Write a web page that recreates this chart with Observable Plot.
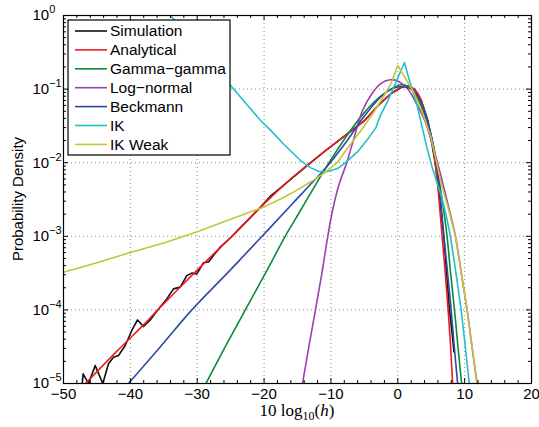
<!DOCTYPE html>
<html><head><meta charset="utf-8">
<script src="https://cdn.jsdelivr.net/npm/d3@7"></script>
<script src="https://cdn.jsdelivr.net/npm/@observablehq/plot@0.6"></script>
<style>
body{margin:0;background:#fff;}
#chart svg{display:block;}
</style></head><body><div id="chart"></div>
<script>
// ---- data ----
const seriesNames = ["Simulation","Analytical","Gamma\u2212gamma","Log\u2212normal","Beckmann","IK","IK Weak"];
const seriesColors = ["#111111","#ec1c24","#0b8a3c","#9b3fae","#2b4ba6","#22c0c8","#c4c43a"];

const simX = [-47.2,-47.06,-46.26,-45.26,-44.12,-43.27,-42.52,-41.77,-40.77,-39.78,-38.93,-38.03,-37.03,-35.79,-34.55,-33.55,-32.55,-31.56,-30.81,-30.06,-29.06,-28.31,-27.57,-26.5,-25,-23.5,-22,-20.5,-19,-17,-15,-13,-11,-9,-7,-5,-3,-1,0.5,1.5,2.5,3.5,4.5,5.5,6.0,6.88,7.3,7.73,8.1,8.4];
const simY = [1.00e-5,1.35e-5,1.00e-5,1.75e-5,1.00e-5,1.85e-5,2.28e-5,2.40e-5,3.28e-5,5.25e-5,7.31e-5,5.94e-5,7.31e-5,1.03e-4,1.41e-4,1.93e-4,2.04e-4,2.92e-4,3.16e-4,3.09e-4,4.37e-4,4.47e-4,5.50e-4,7.24e-4,9.55e-4,1.32e-3,1.82e-3,2.51e-3,3.55e-3,5.01e-3,7.08e-3,1.00e-2,1.41e-2,1.95e-2,2.69e-2,3.72e-2,5.89e-2,8.71e-2,0.105,0.111,0.100,0.0708,0.0372,0.0112,5.62e-3,1.00e-3,3.16e-4,1.00e-4,5.01e-5,2.69e-5];

const anaX = [-46.7,-42,-38,-35.9,-32,-28,-24.8,-20.8,-17,-13.06,-10,-7.5,-5,-2.5,0,1.4,2.9,4.4,5.2,5.9,6.63,7.1,7.53,7.9,8.2];
const anaY = [1.00e-5,2.75e-5,6.31e-5,1.00e-4,2.29e-4,5.25e-4,1.00e-3,2.34e-3,5.01e-3,1.00e-2,1.66e-2,2.51e-2,3.72e-2,6.61e-2,0.100,0.111,0.0902,0.0389,0.0178,5.62e-3,1.00e-3,3.16e-4,1.00e-4,3.16e-5,1.00e-5];

const ggX = [-28.7,-25.8,-22.8,-19.04,-16.85,-14.55,-12.3,-10.07,-7.6,-5.1,-2.6,-1,0.2,1.5,2.8,4.0,4.9,5.6,6.2,6.8,7.37,7.9,8.48,9.0,9.55];
const ggY = [1.00e-5,3.16e-5,1.00e-4,4.22e-4,1.00e-3,2.24e-3,5.01e-3,1.07e-2,2.34e-2,4.68e-2,7.94e-2,0.100,0.1135,0.1096,0.0794,0.0447,0.0251,0.0126,5.66e-3,2.51e-3,1.00e-3,3.16e-4,1.00e-4,3.16e-5,1.00e-5];

const lnX = [-14.25,-13.3,-12.31,-11.35,-10.47,-9.81,-8.8,-7.64,-6.5,-5.32,-4,-2.6,-1.2,0.2,1.5,2.8,4.0,5.0,6.0,7.0,8.0,8.63,9.5,10.37,11.1,11.85];
const lnY = [1.00e-5,3.16e-5,1.00e-4,3.16e-4,1.00e-3,2.14e-3,5.01e-3,1.00e-2,2.24e-2,5.01e-2,8.32e-2,0.1175,0.134,0.126,0.100,0.0631,0.0380,0.0200,9.55e-3,4.17e-3,1.78e-3,1.00e-3,3.16e-4,1.00e-4,3.16e-5,1.00e-5];

const beX = [-40.28,-35.5,-30.8,-25.5,-20.3,-15.8,-13,-10.4,-7.5,-5.1,-2.6,-1,0.5,1.8,3.0,4.0,4.9,5.6,6.13,6.9,7.45,7.98,8.45,8.95];
const beY = [1.00e-5,3.16e-5,1.00e-4,3.16e-4,1.00e-3,2.75e-3,5.13e-3,9.33e-3,2.04e-2,4.17e-2,7.76e-2,0.100,0.1086,0.1023,0.0794,0.0501,0.0257,0.0126,5.66e-3,1.00e-3,3.16e-4,1.00e-4,3.16e-5,1.00e-5];

const ikX = [-34.0,-30,-27,-25,-22,-20.5,-19,-17.05,-14.55,-13,-11.8,-10.5,-9,-7.82,-6,-4.5,-3.3,-2.6,-1.5,-0.5,1.0,1.8,2.9,3.6,4.4,5.1,5.8,6.5,7.2,7.88,8.7,9.48,10.1,10.7];
const ikY = [1.0,0.372,0.178,0.112,0.0537,0.0372,0.0275,0.0178,0.0107,8.51e-3,7.59e-3,7.59e-3,8.32e-3,1.00e-2,1.41e-2,2.09e-2,2.95e-2,4.37e-2,6.92e-2,0.112,0.230,0.126,0.0594,0.0316,0.0155,8.91e-3,5.62e-3,3.55e-3,2.00e-3,1.00e-3,3.16e-4,1.00e-4,3.16e-5,1.00e-5];

const ikwX = [-50,-45,-40,-35,-30,-25,-20,-17,-15,-13,-11,-9,-7.5,-5,-3.5,-2,-1,0,1.2,2.4,3.6,4.9,5.7,6.4,7.5,8.63,9.5,10.37,11.1,11.87];
const ikwY = [3.24e-4,4.37e-4,6.03e-4,8.13e-4,1.15e-3,1.70e-3,2.51e-3,3.39e-3,4.27e-3,5.50e-3,7.24e-3,1.02e-2,1.58e-2,3.16e-2,5.01e-2,8.32e-2,0.120,0.209,0.138,0.0891,0.0501,0.0234,0.0112,5.62e-3,2.51e-3,1.00e-3,3.16e-4,1.00e-4,3.16e-5,1.00e-5];

const xTickValues = [-50,-40,-30,-20,-10,0,10,20];
const yTickValues = [1e-5,1e-4,1e-3,1e-2,1e-1,1];
const yTickExponents = ["\u22125","\u22124","\u22123","\u22122","\u22121","0"];
const xLabel = ["10 log", "10", "(", "h", ")"];
const yLabel = "Probability Density";

// ---- build tables ----
const seriesXs = [simX, anaX, ggX, lnX, beX, ikX, ikwX];
const seriesYs = [simY, anaY, ggY, lnY, beY, ikY, ikwY];
const tables = seriesXs.map((xs, i) => xs.map((x, j) => ({x, y: seriesYs[i][j], s: seriesNames[i]})));
const curves = ["linear","catmull-rom","catmull-rom","catmull-rom","catmull-rom","linear","linear"];

const W = 539, H = 427, mL = 63, mR = 8, mT = 15, mB = 44;
const innerW = W - mL - mR, innerH = H - mT - mB;

const xMinor = d3.range(-50, 20.001, 2).filter(v => !xTickValues.includes(v));
const yMinor = [];
for (let k = -5; k < 0; k++) for (let m = 2; m <= 9; m++) yMinor.push(m * Math.pow(10, k));
const xGrid = xTickValues.slice(1, -1);
const yGrid = yTickValues.slice(1, -1);

const gridStyle = {stroke: "#8a8a8a", strokeDasharray: "1,3", strokeWidth: 1};
const expMap = new Map(yTickValues.map((v, i) => [v, yTickExponents[i]]));

const svg = Plot.plot({
  width: W, height: H,
  marginLeft: mL, marginRight: mR, marginTop: mT, marginBottom: mB,
  style: {fontFamily: "'Liberation Sans', Arial, Helvetica, sans-serif", fontSize: "15px", background: "white", color: "black"},
  x: {domain: [-50, 20]},
  y: {type: "log", domain: [1e-5, 1]},
  marks: [
    Plot.ruleX(xGrid, {x: d => d, ...gridStyle}),
    Plot.ruleY(yGrid, {y: d => d, ...gridStyle}),
    ...tables.map((t, i) => Plot.line(t, {x: "x", y: "y", stroke: seriesColors[i], strokeWidth: 1.6, curve: curves[i], clip: true})),
    Plot.tickX(xTickValues, {x: d => d, insetTop: innerH - 5, stroke: "black"}),
    Plot.tickX(xTickValues, {x: d => d, insetBottom: innerH - 5, stroke: "black"}),
    Plot.tickX(xMinor, {x: d => d, insetTop: innerH - 3, stroke: "black"}),
    Plot.tickX(xMinor, {x: d => d, insetBottom: innerH - 3, stroke: "black"}),
    Plot.tickY(yTickValues, {y: d => d, insetRight: innerW - 5, stroke: "black"}),
    Plot.tickY(yTickValues, {y: d => d, insetLeft: innerW - 5, stroke: "black"}),
    Plot.tickY(yMinor, {y: d => d, insetRight: innerW - 3, stroke: "black"}),
    Plot.tickY(yMinor, {y: d => d, insetLeft: innerW - 3, stroke: "black"}),
    Plot.frame({stroke: "black", strokeWidth: 1.2}),
    Plot.axisX({ticks: xTickValues, tickSize: 0, tickPadding: 5, label: null,
      tickFormat: d => d < 0 ? "\u2212" + (-d) : String(d)}),
    Plot.axisY({ticks: yTickValues, tickSize: 0, tickPadding: 31, label: null, textAnchor: "start",
      tickFormat: d => "10^" + expMap.get(d)})
  ]
});

document.getElementById("chart").appendChild(svg);
const root = d3.select(svg);

// superscripts for y tick labels
root.selectAll('g[aria-label="y-axis tick label"] text').each(function() {
  const t = d3.select(this);
  const parts = t.text().split("^");
  t.text(null);
  t.append("tspan").text(parts[0]);
  t.append("tspan").attr("dy", "-7").attr("font-size", "11px").text(parts[1]);
});

// y-axis title
root.append("text")
  .attr("transform", `translate(18,${mT + innerH / 2}) rotate(-90)`)
  .attr("text-anchor", "middle").attr("dy", "0.35em")
  .attr("font-size", "15px").attr("fill", "black")
  .text(yLabel);

// x-axis title
const xt = root.append("text")
  .attr("x", mL + innerW / 2).attr("y", 416)
  .attr("text-anchor", "middle")
  .attr("font-family", "'Liberation Serif', 'Times New Roman', serif")
  .attr("font-size", "17px").attr("fill", "black");
xt.append("tspan").text(xLabel[0]);
xt.append("tspan").attr("font-size", "12px").attr("dy", "4").text(xLabel[1]);
xt.append("tspan").attr("dy", "-4").text(xLabel[2]);
xt.append("tspan").attr("font-style", "italic").text(xLabel[3]);
xt.append("tspan").text(xLabel[4]);

// legend
const lg = root.append("g").attr("transform", "translate(68,20)");
lg.append("rect").attr("width", 162).attr("height", 135).attr("fill", "white").attr("stroke", "black").attr("stroke-width", 1.2);
seriesNames.forEach((name, i) => {
  const y = 11 + i * 18.9;
  lg.append("line").attr("x1", 7).attr("x2", 39).attr("y1", y).attr("y2", y)
    .attr("stroke", seriesColors[i]).attr("stroke-width", 1.6);
  lg.append("text").attr("x", 42).attr("y", y).attr("dy", "0.35em")
    .attr("text-anchor", "start")
    .attr("font-size", "15.5px").attr("fill", "black").text(name);
});
</script>
</body></html>
